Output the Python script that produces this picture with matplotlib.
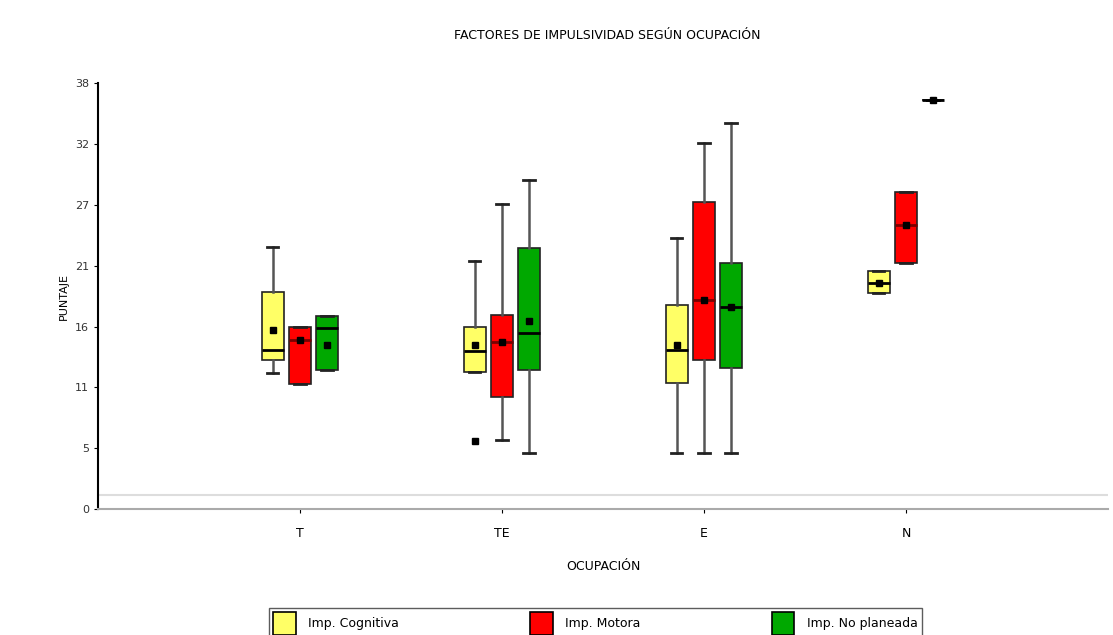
import matplotlib
matplotlib.use("Agg")
import matplotlib.pyplot as plt
from matplotlib.patches import Patch

groups = ["T", "TE", "E", "N"]
series_names = ["Imp. Cognitiva", "Imp. Motora", "Imp. No planeada"]

# whisker low, q1, median, q3, whisker high, mean for each occupation
cog_lo = [12.0, 12.1, 4.9, 19.0]
cog_q1 = [13.1, 12.1, 11.1, 19.0]
cog_med = [14.0, 13.9, 14.0, 19.9]
cog_q3 = [19.1, 16.0, 18.0, 21.0]
cog_hi = [23.1, 21.8, 23.9, 21.0]
cog_mean = [15.8, 14.4, 14.4, 19.9]
cog_out = [[], [6.0], [], []]

mot_lo = [11.0, 6.1, 4.9, 21.7]
mot_q1 = [11.0, 9.9, 13.1, 21.7]
mot_med = [14.9, 14.7, 18.4, 25.0]
mot_q3 = [16.0, 17.1, 27.0, 27.9]
mot_hi = [16.0, 26.9, 32.2, 27.9]
mot_mean = [14.9, 14.7, 18.4, 25.0]

npl_lo = [12.2, 4.9, 4.9, 36.0]
npl_q1 = [12.2, 12.2, 12.4, 36.0]
npl_med = [15.9, 15.5, 17.8, 36.0]
npl_q3 = [17.0, 23.0, 21.7, 36.0]
npl_hi = [17.0, 29.0, 34.0, 36.0]
npl_mean = [14.4, 16.6, 17.8, 36.0]

y_max = 37.5
colors = ["#ffff66", "#ff0000", "#00a800"]
median_colors = ["black", "#7a0000", "black"]
offsets = [-0.134, 0.0, 0.134]
width = 0.11


def make_stats(lo, q1, med, q3, hi, mean, out=None):
    stats = []
    for i in range(len(lo)):
        stats.append({"whislo": lo[i], "q1": q1[i], "med": med[i], "q3": q3[i],
                      "whishi": hi[i], "mean": mean[i],
                      "fliers": out[i] if out else []})
    return stats


all_stats = [
    make_stats(cog_lo, cog_q1, cog_med, cog_q3, cog_hi, cog_mean, cog_out),
    make_stats(mot_lo, mot_q1, mot_med, mot_q3, mot_hi, mot_mean),
    make_stats(npl_lo, npl_q1, npl_med, npl_q3, npl_hi, npl_mean),
]

fig = plt.figure(figsize=(11.13, 6.35), dpi=100)
ax = fig.add_axes([0.088, 0.1984, 0.9075, 0.6706])

base = list(range(1, len(groups) + 1))
for stats, color, mcol, off in zip(all_stats, colors, median_colors, offsets):
    ax.bxp(stats, positions=[p + off for p in base], widths=width,
           patch_artist=True, showmeans=True, showfliers=True,
           boxprops=dict(facecolor=color, edgecolor="#222222", linewidth=1.2),
           medianprops=dict(color=mcol, linewidth=2),
           whiskerprops=dict(color="#555555", linewidth=1.8),
           capprops=dict(color="#222222", linewidth=2),
           meanprops=dict(marker="s", markerfacecolor="black",
                          markeredgecolor="black", markersize=4),
           flierprops=dict(marker="s", markerfacecolor="black",
                           markeredgecolor="black", markersize=4),
           manage_ticks=False)

ax.set_xlim(0, 5)
ax.set_ylim(0, y_max)
ax.set_xticks(base)
ax.set_xticklabels(groups, fontsize=9)
yticks = [y_max * k / 7 for k in range(8)]
ax.set_yticks(yticks)
ax.set_yticklabels([str(int(round(v + 0.001))) for v in yticks], fontsize=8,
                   color="#333333")
ax.axhline(1.2, color="#dddddd", linewidth=1.5, zorder=0)

for side in ["top", "right"]:
    ax.spines[side].set_visible(False)
ax.spines["left"].set_linewidth(1.5)
ax.spines["bottom"].set_color("#aaaaaa")
ax.spines["bottom"].set_linewidth(1.5)
ax.tick_params(axis="both", length=3)
ax.tick_params(axis="x", pad=10)

ax.set_ylabel("PUNTAJE", fontsize=8)
ax.set_xlabel("OCUPACIÓN", fontsize=9, labelpad=14)
fig.suptitle("FACTORES DE IMPULSIVIDAD SEGÚN OCUPACIÓN", fontsize=9,
             x=0.546, y=0.955)

handles = [Patch(facecolor=c, edgecolor="black", linewidth=1.2) for c in colors]
fig.legend(handles, series_names, loc="lower center", ncol=3,
           bbox_to_anchor=(0.535, -0.015), fontsize=9, frameon=True,
           fancybox=False, edgecolor="#333333", handlelength=1.8,
           handleheight=2.4, handletextpad=1.0, columnspacing=10.5,
           borderpad=0.3)

fig.savefig("out.png", dpi=100)
